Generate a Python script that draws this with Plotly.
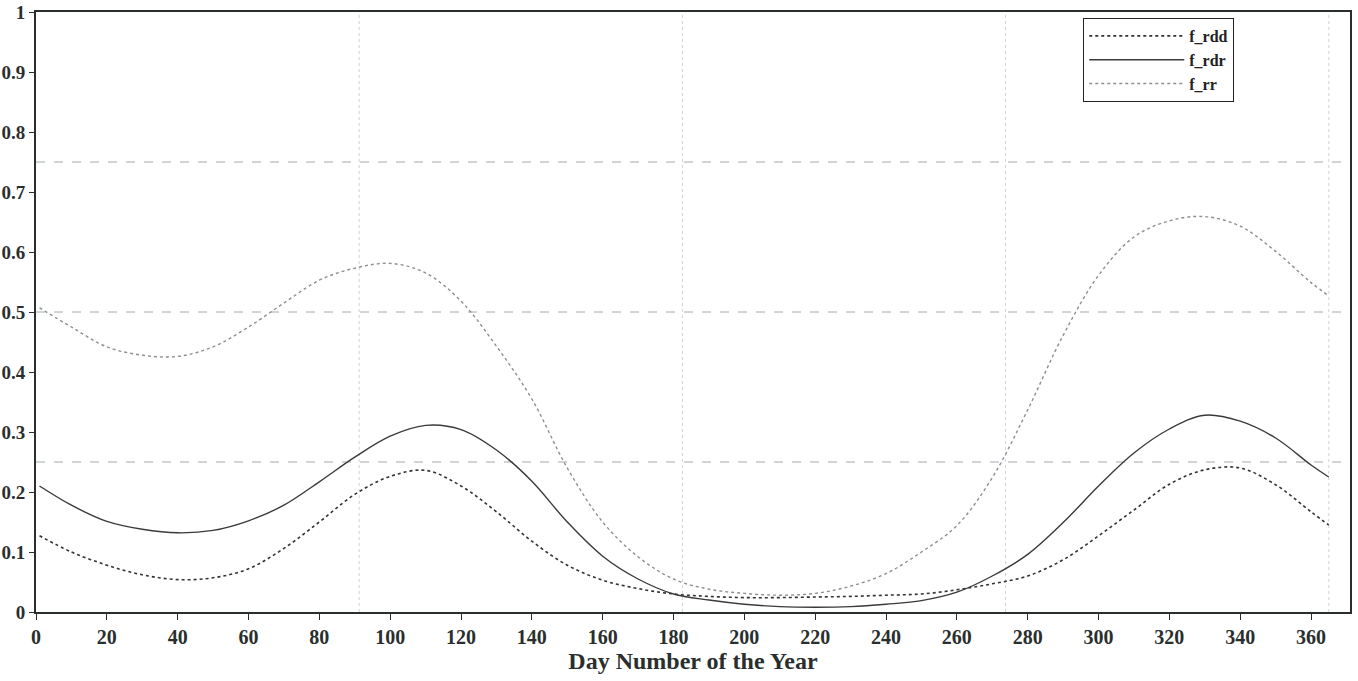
import plotly.graph_objects as go

days = [1, 10, 20, 30, 40, 50, 60, 70, 80, 90, 100, 110, 120, 130, 140, 150, 160, 170, 180,
        190, 200, 210, 220, 230, 240, 250, 260, 270, 280, 290, 300, 310, 320, 330, 340, 350, 360, 365]

f_rdd = [0.127, 0.100, 0.078, 0.062, 0.054, 0.057, 0.072, 0.106, 0.150, 0.196, 0.226, 0.236, 0.210,
         0.167, 0.118, 0.078, 0.053, 0.039, 0.030, 0.026, 0.024, 0.024, 0.025, 0.026, 0.028, 0.030,
         0.037, 0.047, 0.060, 0.087, 0.127, 0.170, 0.213, 0.237, 0.240, 0.212, 0.167, 0.145]

f_rdr = [0.210, 0.178, 0.151, 0.138, 0.132, 0.136, 0.152, 0.178, 0.217, 0.258, 0.293, 0.311, 0.304,
         0.270, 0.218, 0.150, 0.093, 0.055, 0.030, 0.020, 0.013, 0.009, 0.008, 0.009, 0.013, 0.019,
         0.033, 0.060, 0.096, 0.149, 0.210, 0.265, 0.305, 0.328, 0.318, 0.290, 0.245, 0.225]

f_rr = [0.507, 0.475, 0.442, 0.428, 0.426, 0.442, 0.475, 0.515, 0.553, 0.573, 0.581, 0.565, 0.518,
        0.443, 0.355, 0.240, 0.150, 0.092, 0.055, 0.038, 0.031, 0.028, 0.031, 0.043, 0.064, 0.100,
        0.144, 0.224, 0.337, 0.461, 0.561, 0.625, 0.652, 0.659, 0.643, 0.601, 0.549, 0.527]

x_ticks = list(range(0, 361, 20))
y_ticks = [0, 0.1, 0.2, 0.3, 0.4, 0.5, 0.6, 0.7, 0.8, 0.9, 1]
grid_y = [0.25, 0.5, 0.75]
grid_x = [91.25, 182.5, 273.75, 365]

FONT = "Liberation Serif"
INK = "#2a2f2e"

fig = go.Figure()
fig.add_trace(go.Scatter(x=days, y=f_rdd, name="<b>f_rdd</b>", mode="lines", line_shape="spline",
                         line=dict(color="#333", width=1.6, dash="dot")))
fig.add_trace(go.Scatter(x=days, y=f_rdr, name="<b>f_rdr</b>", mode="lines", line_shape="spline",
                         line=dict(color="#3a3a3a", width=1.4)))
fig.add_trace(go.Scatter(x=days, y=f_rr, name="<b>f_rr</b>", mode="lines", line_shape="spline",
                         line=dict(color="#8a8f94", width=1.4, dash="dot")))

shapes = []
for gy in grid_y:
    shapes.append(dict(type="line", xref="paper", yref="y", x0=0, x1=1, y0=gy, y1=gy,
                       line=dict(color="#a4a9ae", width=1, dash="dash"), layer="below"))
for gx in grid_x:
    shapes.append(dict(type="line", xref="x", yref="paper", x0=gx, x1=gx, y0=0, y1=1,
                       line=dict(color="#d0d3d6", width=1, dash="dot"), layer="below"))

fig.update_layout(
    width=1358, height=681,
    margin=dict(l=36, r=8, t=12, b=69, autoexpand=False),
    paper_bgcolor="white", plot_bgcolor="white",
    font=dict(family=FONT, color=INK, size=17),
    shapes=shapes,
    showlegend=True,
    legend=dict(x=0.797, y=0.99, xanchor="left", yanchor="top",
                bgcolor="white", bordercolor="#222", borderwidth=1,
                font=dict(family=FONT, size=16, color="#222"),
                itemwidth=95, tracegroupgap=0, valign="middle"),
)
fig.update_xaxes(range=[0, 371], tickvals=x_ticks, ticks="outside", ticklen=6, tickcolor=INK,
                 showline=True, linecolor=INK, linewidth=2, mirror=True, showgrid=False,
                 zeroline=False, automargin=False,
                 tickfont=dict(family=FONT, size=20, color=INK, weight="bold"),
                 title=dict(text="<b>Day Number of the Year</b>", font=dict(family=FONT, size=24, color=INK),
                            standoff=2))
fig.update_yaxes(range=[0, 1], tickvals=y_ticks, ticks="outside", ticklen=5, tickcolor=INK,
                 showline=True, linecolor=INK, linewidth=2, mirror=True, showgrid=False,
                 zeroline=False, automargin=False,
                 tickfont=dict(family=FONT, size=19, color=INK, weight="bold"))

fig.write_html("out.html", config={"displayModeBar": False},
               post_script="document.body.style.margin='0';document.body.style.overflow='hidden';")
